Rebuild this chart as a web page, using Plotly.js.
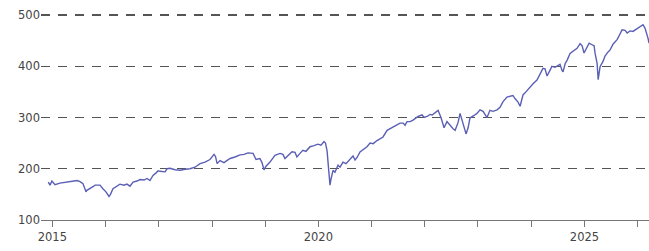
<!DOCTYPE html>
<html>
<head>
<meta charset="utf-8">
<script src="https://cdn.plot.ly/plotly-3.0.1.min.js"></script>
<style>html,body{margin:0;padding:0;background:#fff;}#chart{width:649px;height:251px;}</style>
</head>
<body>
<div id="chart"></div>
<script>
// Time of each reading, as decimal years
const t = [2014.925,2014.957,2014.994,2015.051,2015.145,2015.239,2015.333,2015.408,2015.464,2015.521,
2015.577,2015.633,2015.652,2015.709,2015.765,2015.803,2015.897,2015.953,2016.009,2016.066,
2016.094,2016.141,2016.197,2016.273,2016.348,2016.404,2016.461,2016.517,2016.592,2016.648,
2016.724,2016.780,2016.836,2016.893,2016.949,2016.987,2017.024,2017.118,2017.156,2017.212,
2017.306,2017.400,2017.494,2017.588,2017.682,2017.776,2017.870,2017.964,2018.039,2018.068,
2018.096,2018.152,2018.227,2018.340,2018.434,2018.528,2018.603,2018.679,2018.773,2018.829,
2018.904,2018.942,2018.979,2019.017,2019.092,2019.186,2019.280,2019.336,2019.374,2019.430,
2019.506,2019.562,2019.600,2019.656,2019.712,2019.769,2019.844,2019.919,2019.994,2020.051,
2020.107,2020.135,2020.164,2020.201,2020.220,2020.239,2020.276,2020.314,2020.370,2020.408,
2020.464,2020.521,2020.596,2020.652,2020.690,2020.727,2020.784,2020.840,2020.915,2020.972,
2021.028,2021.103,2021.160,2021.216,2021.291,2021.348,2021.404,2021.479,2021.536,2021.592,
2021.630,2021.667,2021.724,2021.780,2021.818,2021.874,2021.949,2021.987,2022.043,2022.100,
2022.137,2022.212,2022.250,2022.306,2022.363,2022.419,2022.476,2022.532,2022.570,2022.626,
2022.664,2022.720,2022.776,2022.814,2022.851,2022.927,2022.983,2023.039,2023.096,2023.171,
2023.227,2023.284,2023.359,2023.415,2023.472,2023.547,2023.603,2023.660,2023.697,2023.754,
2023.792,2023.848,2023.904,2023.979,2024.036,2024.111,2024.167,2024.224,2024.261,2024.299,
2024.355,2024.393,2024.449,2024.487,2024.543,2024.581,2024.600,2024.637,2024.675,2024.731,
2024.788,2024.863,2024.919,2024.957,2024.994,2025.032,2025.088,2025.145,2025.182,2025.201,
2025.239,2025.258,2025.276,2025.295,2025.351,2025.389,2025.445,2025.483,2025.539,2025.615,
2025.671,2025.709,2025.765,2025.803,2025.859,2025.915,2025.972,2026.009,2026.066,2026.103,
2026.141,2026.160,2026.197,2026.216];
const price = [174,168,176,169,172,173,174,176,177,175,
171,155,158,161,165,168,168,161,155,146,
150,161,165,170,168,170,166,174,176,179,
178,181,177,187,192,196,195,194,200,201,
198,197,199,200,203,210,213,218,228,224,
210,216,212,220,223,227,228,231,230,218,
220,212,198,205,213,226,230,228,220,226,
233,232,223,230,236,234,243,245,248,246,
253,250,235,191,168,180,197,193,207,203,
213,210,220,225,217,222,233,238,243,250,
249,255,259,262,275,278,282,285,289,289,
285,292,292,295,298,302,305,300,302,306,
305,311,314,300,280,292,284,278,275,290,
308,290,268,280,299,304,308,315,312,300,
314,312,315,320,331,340,341,343,337,330,
322,344,350,360,366,373,386,396,395,381,
392,400,398,400,404,392,389,405,412,425,
429,435,444,440,426,435,445,442,440,425,
405,374,385,399,410,420,428,432,443,452,
463,471,470,465,469,468,472,475,478,481,
474,468,455,445];
const yTicks = [100,200,300,400,500];
const xTickYears = [2015,2016,2017,2018,2019,2020,2021,2022,2023,2024,2025,2026];
const xTickText = ['2015','','','','','2020','','','','','2025',''];

function toDate(y){
  const yr = Math.floor(y);
  const start = Date.UTC(yr,0,1), end = Date.UTC(yr+1,0,1);
  const d = new Date(start + (y-yr)*(end-start));
  return d.toISOString().slice(0,10);
}
const dates = t.map(toDate);
const tickDates = xTickYears.map(y => y + '-01-01');

Plotly.newPlot('chart', [{
  x: dates, y: price, type: 'scatter', mode: 'lines',
  line: {color: '#5a5fb6', width: 1.4}, hoverinfo: 'skip'
}], {
  width: 649, height: 251,
  margin: {l: 41, r: 0, t: 14, b: 31},
  paper_bgcolor: '#fff', plot_bgcolor: '#fff',
  showlegend: false,
  font: {family: 'DejaVu Sans', size: 11.5, color: '#444'},
  xaxis: {
    type: 'date', range: ['2014-10-15', '2026-03-20'],
    tickmode: 'array', tickvals: tickDates, ticktext: xTickText,
    ticks: 'outside', ticklen: 6, tickcolor: '#777', tickwidth: 1,
    showline: true, linecolor: '#777', linewidth: 1,
    showgrid: false, zeroline: false
  },
  yaxis: {
    range: [100, 502], tickmode: 'array', tickvals: yTicks,
    showline: false, ticks: '', zeroline: false,
    showgrid: true, gridcolor: '#555', gridwidth: 1.2, griddash: '9px,8px'
  }
}, {staticPlot: true});
</script>
</body>
</html>
